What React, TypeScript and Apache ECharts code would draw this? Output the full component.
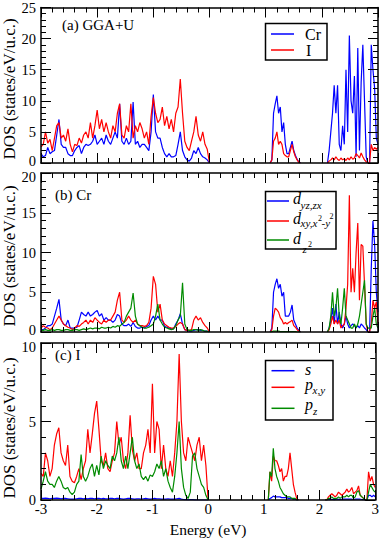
import React, { useEffect, useRef } from "react";
import * as echarts from "echarts";

// Energy grids (eV): valence window, first and second conduction windows
const VB_START = -3.0, VB_STEP = 0.04, VB_N = 76;
const CB1_START = 1.08, CB1_STEP = 0.03, CB1_N = 19;
const CB2_START = 2.1, CB2_STEP = 0.03, CB2_N = 31;

const xTickMin = -3, xTickMax = 3, xTickStep = 1;
const panelMax = [25, 20, 10];
const panelLabels = ["(a) GGA+U", "(b) Cr", "(c) I"];
const yTitle = "DOS (states/eV/u.c.)";
const xTitle = "Energy (eV)";

// (a) total DOS: Cr
const crTotal = [
  1.5, 1.0, 1.2, 2.5, 1.5, 1.8, 2.0, 4.5, 7.0, 3.0,
  2.5, 2.5, 1.5, 1.2, 1.2, 2.0, 2.5, 2.8, 1.5, 2.5,
  3.0, 2.8, 3.0, 3.5, 4.5, 3.0, 3.5, 4.0, 3.0, 4.5,
  3.5, 3.0, 4.0, 5.0, 4.0, 9.5, 3.5, 3.0, 4.0, 3.0,
  3.5, 9.8, 3.0, 3.5, 2.5, 3.0, 3.0, 2.5, 2.0, 5.0,
  11.0, 5.0, 4.0, 4.0, 2.5, 1.5, 1.0, 1.5, 1.0, 1.0,
  1.2, 3.0, 5.0, 2.0, 1.0, 0.5, 0.3, 0.8, 2.0, 1.5,
  2.5, 1.5, 1.0, 0.8, 0.5, 0,
  0, 0.5, 8.0, 9.5, 10.8, 8.0, 9.0, 5.0, 6.5, 3.0, 1.5, 1.5, 2.5, 3.5, 2.0, 1.2, 0.6, 0.2, 0,
  0, 2.0, 5.0, 8.0, 12.5, 8.0, 12.5, 3.0, 2.0, 6.0, 3.0, 15.0, 5.0, 20.5, 10.0, 8.0,
  14.0, 1.0, 18.5, 2.0, 13.0, 19.0, 10.0, 1.0, 0, 0, 19.0, 15.0, 12.0, 4.0, 3.0,
];
// (a) total DOS: I
const iTotal = [
  2.6, 3.0, 5.0, 3.2, 3.8, 2.0, 4.0, 6.0, 6.5, 4.0,
  4.5, 3.5, 5.5, 3.0, 1.8, 3.0, 2.8, 4.0, 3.2, 4.5,
  5.0, 4.0, 6.5, 4.0, 6.0, 8.5, 5.5, 7.0, 5.0, 6.5,
  5.0, 4.0, 6.0, 5.0, 8.0, 9.5, 4.5, 4.0, 6.0, 5.0,
  9.5, 4.0, 6.0, 5.0, 6.5, 5.5, 4.0, 5.0, 3.0, 7.5,
  10.5, 8.0, 6.5, 7.0, 9.0, 6.0, 7.5, 5.5, 7.0, 5.0,
  8.0, 9.0, 13.5, 8.0, 3.5, 2.5, 2.0, 3.5, 5.0, 7.5,
  4.5, 3.5, 5.0, 3.0, 2.2, 0,
  0, 0.5, 3.5, 4.0, 5.0, 3.0, 3.5, 3.0, 1.5, 1.2, 1.0, 1.0, 2.0, 3.0, 1.8, 1.0, 0.5, 0.1, 0,
  0, 0.3, 0.5, 0.8, 0.5, 1.0, 0.6, 0.4, 0.8, 0.5, 0.7, 0.4, 0.8, 0.5, 1.0, 0.6,
  0.8, 1.5, 1.2, 0.8, 1.6, 1.0, 0.5, 0.2, 0, 0, 3.0, 2.0, 2.5, 2.2, 2.5,
];
// (b) Cr d_yz,zx
const crDyzzx = [
  0.3, 0.3, 0.5, 0.8, 0.8, 1.0, 2.0, 3.0, 4.1, 1.5,
  1.0, 0.8, 1.5, 0.5, 0.5, 0.5, 0.6, 1.5, 2.5, 2.2,
  2.0, 2.5, 2.0, 2.2, 2.5, 2.7, 2.0, 2.3, 1.5, 1.8,
  1.5, 1.5, 1.2, 1.5, 2.2, 2.0, 1.0, 0.8, 0.8, 1.0,
  0.7, 1.2, 0.7, 0.5, 0.5, 0.6, 0.5, 0.7, 0.8, 1.5,
  2.0, 1.5, 2.0, 1.5, 1.5, 0.7, 0.6, 0.5, 0.4, 0.4,
  1.0, 1.5, 2.3, 1.0, 0.3, 0.2, 0.1, 0.1, 0.2, 0.3,
  0.3, 0.2, 0.2, 0.1, 0.1, 0,
  0, 0.5, 5.0, 6.0, 6.7, 5.5, 6.0, 4.5, 5.0, 2.0, 2.0, 2.0, 2.5, 3.4, 1.5, 1.0, 0.5, 0.2, 0,
  0, 0.5, 1.5, 3.0, 1.0, 3.5, 1.0, 2.5, 1.0, 0.5, 1.0, 2.0, 1.0, 0.5, 0.8, 1.0,
  0.8, 0.5, 0.8, 0.5, 1.0, 0.8, 0.5, 0.3, 0, 0, 8.0, 14.0, 11.0, 5.0, 2.5,
];
// (b) Cr d_xy,x2-y2
const crDxy = [
  0.5, 0.8, 0.6, 0.5, 0.3, 0.5, 1.0, 1.5, 2.0, 1.5,
  1.0, 0.8, 0.6, 0.5, 0.3, 0.5, 0.8, 0.7, 1.0, 1.2,
  1.5, 1.0, 1.5, 1.2, 1.8, 1.5, 1.2, 1.0, 1.5, 1.2,
  1.5, 1.5, 2.0, 2.5, 4.0, 5.0, 1.5, 1.2, 1.5, 2.0,
  1.5, 1.2, 1.5, 1.0, 0.8, 0.8, 0.7, 0.8, 1.2, 3.0,
  7.0, 6.0, 2.5, 3.5, 1.5, 1.0, 0.8, 0.6, 0.5, 0.5,
  0.7, 1.0, 1.2, 1.0, 0.3, 0.2, 0.2, 0.3, 1.5, 2.0,
  1.5, 1.8, 1.2, 0.8, 0.5, 0,
  0, 0.3, 2.0, 3.0, 2.8, 2.5, 1.8, 1.5, 1.0, 1.2, 1.0, 1.2, 1.3, 1.5, 0.8, 0.6, 0.3, 0.1, 0,
  0, 0.3, 1.0, 2.0, 1.0, 1.5, 1.0, 1.5, 0.5, 0.8, 1.0, 3.0, 6.0, 17.2, 5.0, 8.0,
  5.0, 10.0, 13.7, 4.0, 11.0, 10.8, 6.0, 1.0, 0, 0, 1.0, 4.0, 3.0, 3.8, 1.0,
];
// (b) Cr d_z2
const crDz2 = [
  0.2, 0.2, 0.3, 0.2, 0.2, 0.3, 0.2, 0.3, 0.3, 0.2,
  0.2, 0.3, 0.3, 0.2, 0.2, 0.3, 0.3, 0.2, 0.3, 0.4,
  0.3, 0.4, 0.5, 0.4, 0.5, 0.5, 0.4, 0.6, 0.5, 0.5,
  0.6, 0.5, 0.7, 0.6, 0.8, 0.7, 1.0, 1.2, 2.0, 2.5,
  3.0, 4.9, 2.0, 1.0, 0.8, 0.6, 0.5, 0.5, 0.6, 0.8,
  1.0, 2.0, 3.5, 1.5, 1.0, 0.6, 0.5, 0.4, 0.3, 0.4,
  0.8, 1.5, 2.0, 6.2, 1.0, 0.3, 0.2, 0.2, 0.3, 0.3,
  0.2, 0.3, 0.2, 0.1, 0.1, 0,
  0, 0.05, 0.1, 0.1, 0.1, 0.1, 0.05, 0.05, 0.05, 0.05, 0.05, 0.05, 0.05, 0.05, 0.05, 0.05, 0, 0, 0,
  0, 0.5, 2.0, 5.0, 2.0, 3.0, 5.5, 2.0, 1.0, 3.0, 5.5, 2.0, 1.5, 1.0, 0.5, 0.5,
  1.0, 0.5, 1.0, 2.0, 3.5, 5.0, 6.5, 1.0, 0.5, 0.5, 0.5, 2.0, 3.0, 1.0, 0.5,
];
// (c) I s
const iS = [
  0.1, 0.1, 0.12, 0.1, 0.08, 0.1, 0.1, 0.12, 0.1, 0.08,
  0.1, 0.1, 0.08, 0.06, 0.05, 0.06, 0.08, 0.1, 0.1, 0.08,
  0.1, 0.08, 0.1, 0.1, 0.08, 0.1, 0.1, 0.08, 0.1, 0.08,
  0.08, 0.1, 0.1, 0.08, 0.1, 0.1, 0.08, 0.06, 0.08, 0.1,
  0.1, 0.08, 0.06, 0.08, 0.08, 0.06, 0.08, 0.1, 0.08, 0.06,
  0.08, 0.1, 0.08, 0.08, 0.06, 0.05, 0.06, 0.08, 0.06, 0.05,
  0.06, 0.08, 0.1, 0.06, 0.03, 0.02, 0.01, 0.02, 0.02, 0.01,
  0, 0, 0, 0, 0, 0,
  0, 0.1, 0.15, 0.25, 0.2, 0.2, 0.2, 0.2, 0.15, 0.15, 0.15, 0.15, 0.1, 0.1, 0.1, 0.05, 0.05, 0, 0,
  0, 0, 0.02, 0.03, 0.05, 0.03, 0.03, 0.05, 0.05, 0.03, 0.05, 0.05, 0.05, 0.05, 0.05, 0.05,
  0.05, 0.03, 0.05, 0.05, 0.05, 0.05, 0.03, 0.02, 0, 0, 0.3, 0.3, 0.2, 0.3, 0.2,
];
// (c) I p_x,y
const iPxy = [
  1.7, 1.5, 3.0, 2.5, 1.5, 2.0, 3.5, 4.2, 4.6, 3.0,
  2.5, 2.2, 3.5, 1.5, 1.2, 1.1, 1.5, 2.0, 1.3, 2.0,
  2.5, 4.5, 3.0, 4.2, 5.5, 6.3, 4.5, 2.5, 2.2, 3.0,
  2.0, 1.8, 2.5, 3.0, 5.0, 3.5, 4.0, 2.5, 2.0, 3.0,
  5.4, 3.2, 2.5, 3.0, 2.0, 2.0, 3.0, 3.5, 4.5, 3.0,
  7.4, 3.0, 5.0, 4.5, 2.0, 3.5, 2.0, 1.5, 2.5, 1.5,
  3.0, 5.0, 9.3, 5.0, 3.0, 2.5, 4.0, 3.5, 3.0, 2.5,
  3.5, 4.0, 2.5, 3.5, 2.2, 0,
  0, 1.8, 1.2, 2.8, 2.5, 2.5, 2.2, 1.8, 2.0, 1.2, 1.5, 1.5, 2.0, 3.0, 2.0, 1.0, 0.5, 0.1, 0,
  0, 0, 0.2, 0.3, 0.4, 0.3, 0.2, 0.3, 0.5, 0.4, 0.3, 0.4, 0.5, 0.7, 0.5, 0.6,
  0.8, 0.4, 0.5, 0.6, 0.9, 0.3, 0.2, 0.1, 0, 0, 1.8, 1.2, 1.5, 1.0, 0.8,
];
// (c) I p_z
const iPz = [
  0.7, 1.2, 1.8, 1.2, 1.0, 1.0, 0.8, 1.2, 1.5, 1.2,
  0.8, 0.7, 0.8, 0.5, 0.35, 0.5, 1.0, 1.2, 2.9, 1.5,
  1.2, 1.5, 2.0, 2.3, 1.5, 2.2, 1.6, 2.8, 2.0, 2.5,
  2.2, 2.0, 2.8, 2.5, 3.0, 4.0, 2.5, 2.0, 2.8, 2.0,
  3.0, 4.0, 2.5, 2.0, 2.3, 1.5, 1.3, 1.5, 1.2, 1.6,
  1.5, 1.8, 2.3, 2.0, 2.5, 1.5, 2.0, 1.2, 0.8, 0.5,
  1.5, 3.0, 5.0, 2.0, 0.8, 0.3, 0.1, 0.5, 2.8, 3.0,
  2.0, 1.5, 1.0, 0.8, 0.3, 0,
  0, 1.8, 1.5, 3.3, 2.0, 1.5, 1.2, 0.8, 0.6, 0.4, 0.3, 0.2, 0.2, 0.2, 0.1, 0.1, 0.1, 0, 0,
  0, 0, 0.1, 0.1, 0.2, 0.1, 0.1, 0.1, 0.2, 0.1, 0.2, 0.2, 0.2, 0.3, 0.2, 0.3,
  0.3, 0.1, 0.2, 0.5, 0.6, 0.3, 0.2, 0.1, 0, 0, 0.5, 1.0, 0.8, 0.6, 0.5,
];

const BLUE = "#0000ff";
const RED = "#ff0000";
const GREEN = "#008b00";
const SERIF = "'Liberation Serif', 'Times New Roman', serif";

function seg(start: number, step: number, n: number) {
  return Array.from({ length: n }, (_, i) => +(start + step * i).toFixed(3));
}
const segments = [
  seg(VB_START, VB_STEP, VB_N),
  seg(CB1_START, CB1_STEP, CB1_N),
  seg(CB2_START, CB2_STEP, CB2_N),
];

function toPoints(vals: number[]) {
  const out: any[] = [];
  let k = 0;
  let prevEnd = 0;
  segments.forEach((s, si) => {
    if (si > 0) out.push([(prevEnd + s[0]) / 2, null]);
    s.forEach((e) => out.push([e, vals[k++]]));
    prevEnd = s[s.length - 1];
  });
  return out;
}

const GRIDS = [
  { left: 41, top: 5, width: 337, height: 158 },
  { left: 41, top: 173, width: 337, height: 159 },
  { left: 41, top: 343, width: 337, height: 159 },
];

function axisBase() {
  return {
    axisLine: { show: true, onZero: false, lineStyle: { color: "#000", width: 1.5 } },
    axisTick: { show: true, inside: true, length: 10, lineStyle: { color: "#000", width: 1 } },
    minorTick: { show: true, splitNumber: 5, length: 5, lineStyle: { color: "#000", width: 1 } },
    splitLine: { show: false },
    minorSplitLine: { show: false },
    z: 10,
  };
}

function legendText(text: string, x: number, y: number, size: number, italic = true) {
  return {
    type: "text",
    x,
    y,
    z: 101,
    style: {
      text,
      fill: "#000",
      font: `${italic ? "italic " : ""}${size}px ${SERIF}`,
      textAlign: "left",
      textVerticalAlign: "middle",
    },
  };
}
function legendLine(x1: number, x2: number, y: number, color: string) {
  return {
    type: "line",
    z: 101,
    shape: { x1, y1: y, x2, y2: y },
    style: { stroke: color, lineWidth: 1.5 },
  };
}
function legendBox(x: number, y: number, w: number, h: number) {
  return {
    type: "rect",
    z: 100,
    shape: { x, y, width: w, height: h },
    style: { fill: "#fff", stroke: "#000", lineWidth: 1.5 },
  };
}

const LABEL_FONT = { color: "#000", fontFamily: SERIF, fontSize: 14.5 };

export default function App() {
  const ref = useRef<HTMLDivElement>(null);
  useEffect(() => {
    if (!ref.current) return;
    const chart = echarts.init(ref.current, null, { renderer: "svg" });

    const xAxes: any[] = [];
    const yAxes: any[] = [];
    [0, 1, 2].forEach((g) => {
      xAxes.push({
        ...axisBase(),
        type: "value",
        gridIndex: g,
        position: "bottom",
        min: xTickMin,
        max: xTickMax,
        interval: xTickStep,
        axisLabel: { show: g === 2, margin: 1, ...LABEL_FONT, fontSize: 15 },
        name: g === 2 ? xTitle : "",
        nameLocation: "middle",
        nameGap: 21,
        nameTextStyle: { color: "#000", fontFamily: SERIF, fontSize: 15.5 },
      });
    });
    [0, 1, 2].forEach((g) => {
      xAxes.push({
        ...axisBase(),
        type: "value",
        gridIndex: g,
        position: "top",
        min: xTickMin,
        max: xTickMax,
        interval: xTickStep,
        axisLabel: { show: false },
      });
    });
    [0, 1, 2].forEach((g) => {
      const max = panelMax[g];
      yAxes.push({
        ...axisBase(),
        type: "value",
        gridIndex: g,
        position: "left",
        min: 0,
        max,
        interval: 5,
        axisLabel: {
          show: true,
          margin: 5,
          ...LABEL_FONT,
          formatter: (v: number) => {
            if (v === 0 && g < 2) return `{lo|${v}}`;
            if (v === max && g > 0) return `{hi|${v}}`;
            return `${v}`;
          },
          rich: {
            lo: { ...LABEL_FONT, padding: [0, 0, 5, 0] },
            hi: { ...LABEL_FONT, padding: [7, 0, 0, 0] },
          },
        },
      });
    });
    [0, 1, 2].forEach((g) => {
      yAxes.push({
        ...axisBase(),
        type: "value",
        gridIndex: g,
        position: "right",
        min: 0,
        max: panelMax[g],
        interval: 5,
        axisLabel: { show: false },
      });
    });

    const line = (name: string, vals: number[], color: string, g: number) => ({
      name,
      type: "line",
      xAxisIndex: g,
      yAxisIndex: g,
      data: toPoints(vals),
      showSymbol: false,
      symbol: "none",
      connectNulls: false,
      lineStyle: { color, width: 1.2 },
      itemStyle: { color },
      z: 2,
    });

    const series = [
      line("Cr", crTotal, BLUE, 0),
      line("I", iTotal, RED, 0),
      line("d_yz,zx", crDyzzx, BLUE, 1),
      line("d_xy,x2-y2", crDxy, RED, 1),
      line("d_z2", crDz2, GREEN, 1),
      line("s", iS, BLUE, 2),
      line("p_x,y", iPxy, RED, 2),
      line("p_z", iPz, GREEN, 2),
    ];

    const yTitleCenters = [89, 256, 428];
    const graphic: any[] = [
      ...yTitleCenters.map((cy) => ({
        type: "text",
        x: 9.5,
        y: cy,
        rotation: Math.PI / 2,
        style: {
          text: yTitle,
          fill: "#000",
          font: `17px ${SERIF}`,
          textAlign: "center",
          textVerticalAlign: "middle",
        },
      })),
      legendText(panelLabels[0], 62, 25, 15, false),
      legendText(panelLabels[1], 55, 195, 15, false),
      legendText(panelLabels[2], 55, 355, 15, false),
      // legend (a)
      legendBox(265.5, 23.5, 61.5, 36.5),
      legendLine(271, 294, 34, BLUE),
      legendLine(271, 294, 50, RED),
      legendText("Cr", 305, 34, 16, false),
      legendText("I", 306, 50, 16, false),
      // legend (b)
      legendBox(265.5, 191.5, 70.5, 57.5),
      legendLine(267, 289, 201, BLUE),
      legendLine(267, 289, 221, RED),
      legendLine(267, 289, 240, GREEN),
      legendText("d", 293, 198, 16),
      legendText("yz,zx", 300.5, 204.5, 11),
      legendText("d", 293, 218, 16),
      legendText("xy,x", 300.5, 223, 11),
      legendText("2", 318, 218.5, 8, false),
      legendText("-y", 321.5, 223, 11),
      legendText("2", 329.5, 216.5, 8, false),
      legendText("d", 293, 238, 16),
      legendText("z", 302.5, 249, 11),
      legendText("2", 308, 244, 8, false),
      // legend (c)
      legendBox(265.5, 360.5, 67.5, 59.5),
      legendLine(271.5, 294.5, 370.7, BLUE),
      legendLine(271.5, 294.5, 387.3, RED),
      legendLine(271.5, 294.5, 408.3, GREEN),
      legendText("s", 305, 369, 16),
      legendText("p", 305, 384.6, 16),
      legendText("x,y", 312.5, 390.3, 11),
      legendText("p", 305, 404.6, 16),
      legendText("z", 313, 411, 11),
    ];

    chart.setOption({
      animation: false,
      backgroundColor: "#fff",
      grid: GRIDS,
      xAxis: xAxes,
      yAxis: yAxes,
      series,
      graphic,
    });
    return () => chart.dispose();
  }, []);
  return (
    <div
      ref={ref}
      style={{ position: "fixed", left: 0, top: 0, width: 382, height: 538, background: "#fff" }}
    />
  );
}
